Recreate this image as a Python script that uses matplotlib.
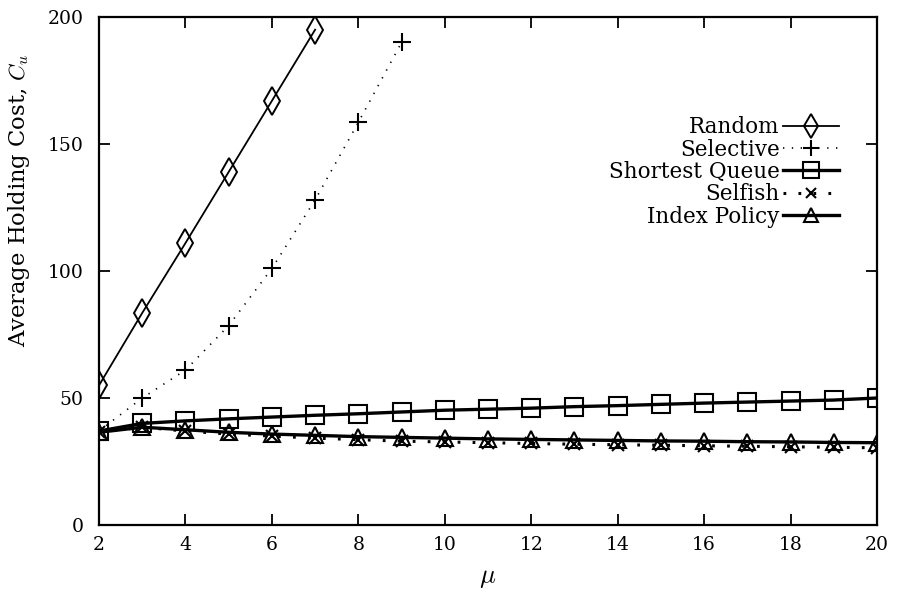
import matplotlib
matplotlib.use("Agg")
import matplotlib.pyplot as plt
import numpy as np

plt.rcParams["font.family"] = ["DejaVu Serif"]
plt.rcParams["mathtext.fontset"] = "cm"

mu = list(range(2, 21))

random_mu = [2, 3, 4, 5, 6, 7]
random_cost = [55, 83.5, 111, 139, 167, 195]

selective_mu = [2, 3, 4, 5, 6, 7, 8, 9]
selective_cost = [37, 50, 61, 78.5, 101, 128, 158.5, 190]

shortest_queue = [37, 40, 41, 41.8, 42.5, 43.2, 43.8, 44.5, 45.2, 45.6,
                  46.0, 46.6, 47.0, 47.5, 48.0, 48.4, 48.8, 49.2, 50.0]
selfish = [36.5, 38.5, 37.0, 35.8, 35.0, 34.2, 33.6, 33.0, 32.7, 32.4,
           32.1, 31.8, 31.6, 31.4, 31.2, 31.0, 30.8, 30.6, 30.4]
index_policy = [36.5, 38.5, 37.5, 36.5, 35.8, 35.3, 34.8, 34.5, 34.2, 33.9,
                33.7, 33.5, 33.3, 33.1, 33.0, 32.8, 32.7, 32.5, 32.4]

x_ticks = list(range(2, 21, 2))
y_ticks = [0, 50, 100, 150, 200]

fig = plt.figure(figsize=(8.97, 5.96), dpi=100)
ax = fig.add_axes([0.1104, 0.1191, 0.8673, 0.8524])

ax.plot(random_mu, random_cost, color="black", lw=1.3, marker="d",
        markersize=14, fillstyle="none", markeredgewidth=1.4,
        label="Random")
ax.plot(selective_mu, selective_cost, color="black", lw=1.2,
        linestyle=(0, (0.8, 4.5)), marker="+", markersize=13,
        markeredgewidth=1.5, label="Selective")
ax.plot(mu, shortest_queue, color="black", lw=2.4, marker="s",
        markersize=13, fillstyle="none", markeredgewidth=1.5,
        label="Shortest Queue")
ax.plot(mu, selfish, color="black", lw=2.2, linestyle=(0, (0.9, 4.0)),
        marker="x", markersize=8, markeredgewidth=1.5, label="Selfish")
ax.plot(mu, index_policy, color="black", lw=2.4, marker="^",
        markersize=12, fillstyle="none", markeredgewidth=1.5,
        label="Index Policy")

ax.set_xlim(2, 20)
ax.set_ylim(0, 200)
ax.set_xticks(x_ticks)
ax.set_yticks(y_ticks)
ax.tick_params(direction="in", length=8, width=1.3, top=True, right=True,
               labelsize=13.5)
ax.tick_params(axis="y", pad=11)
ax.tick_params(axis="x", pad=8)
for sp in ax.spines.values():
    sp.set_linewidth(1.6)

ax.set_xlabel(r"$\mu$", fontsize=19, labelpad=8)
ax.set_ylabel(r"Average Holding Cost, $C_u$", fontsize=16.3)
ax.yaxis.set_label_coords(-0.086, 0.64)

leg = ax.legend(loc="upper right", bbox_to_anchor=(0.965, 0.826),
                markerfirst=False, frameon=False, fontsize=15.5,
                handlelength=2.6, handletextpad=0.15, labelspacing=0.02,
                borderpad=0)
for h in leg.legend_handles:
    h.set_markersize(h.get_markersize() * 0.85)

fig.savefig("out.png", dpi=100)
